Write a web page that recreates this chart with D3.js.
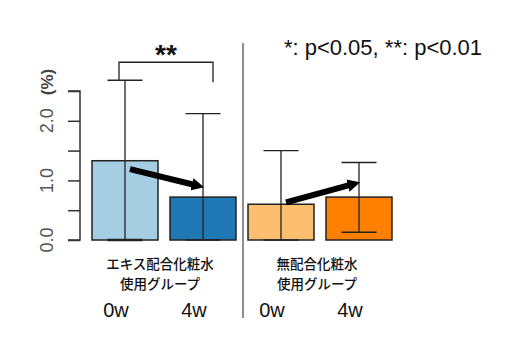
<!DOCTYPE html>
<html>
<head>
<meta charset="utf-8">
<script src="https://cdn.jsdelivr.net/npm/d3@7"></script>
<style>
  body { margin: 0; background: #fff; }
</style>
</head>
<body>
<script>
// values
const categories = ["エキス0w", "エキス4w", "無配合0w", "無配合4w"];
const means = [1.33, 0.72, 0.60, 0.72];
const upper = [2.68, 2.12, 1.50, 1.30];
const lower = [0.00, 0.00, 0.00, 0.13];
const barColors = ["#a6cee3", "#1f78b4", "#fdbf6f", "#ff7f00"];
const weekLabels = ["0w", "4w", "0w", "4w"];
const groupLabels = [["エキス配合化粧水", "使用グループ"], ["無配合化粧水", "使用グループ"]];
const yTicks = [0, 0.5, 1, 1.5, 2, 2.5];
const yLabels = ["0.0", "1.0", "2.0"];

const width = 509, height = 348;

const svg = d3.select("body")
  .append("svg")
  .attr("width", width)
  .attr("height", height);

const x = d3.scaleBand()
  .domain(categories)
  .range([86, 398])
  .paddingInner(0.154)
  .paddingOuter(0.077);

const y = d3.scaleLinear()
  .domain([0, 2.5])
  .range([240, 91]);

// y axis
const yAxis = d3.axisLeft(y)
  .tickValues(yTicks)
  .tickSize(12)
  .tickFormat("");
const ga = svg.append("g")
  .attr("transform", "translate(80,0)")
  .call(yAxis);
ga.select(".domain").attr("stroke", "#333").attr("stroke-width", 1.5)
  .attr("d", "M-12," + y(2.5) + "H0V" + y(0) + "H-12");
ga.selectAll(".tick line").attr("stroke", "#333").attr("stroke-width", 1.5);

svg.selectAll(".ylab")
  .data(yLabels)
  .enter()
  .append("text")
  .attr("transform", function(d) { return "translate(53," + y(+d) + ") rotate(-90)"; })
  .attr("text-anchor", "middle")
  .attr("font-family", "Liberation Sans, Arial, sans-serif")
  .attr("font-size", 18)
  .attr("fill", "#555")
  .text(function(d) { return d; });

svg.append("text")
  .attr("transform", "translate(53,82) rotate(-90)")
  .attr("text-anchor", "middle")
  .attr("font-family", "Liberation Sans, Arial, sans-serif")
  .attr("font-size", 17)
  .attr("font-weight", "bold")
  .attr("fill", "#444")
  .text("(%)");

// bars
svg.selectAll(".bar")
  .data(categories)
  .enter()
  .append("rect")
  .attr("x", function(d) { return x(d); })
  .attr("y", function(d, i) { return y(means[i]); })
  .attr("width", x.bandwidth())
  .attr("height", function(d, i) { return y(0) - y(means[i]); })
  .attr("fill", function(d, i) { return barColors[i]; })
  .attr("stroke", "#222")
  .attr("stroke-width", 1.5);

// error bars
const capW = 35;
const err = svg.selectAll(".err")
  .data(categories)
  .enter()
  .append("g")
  .attr("stroke", "#222")
  .attr("stroke-width", 1.3);
err.append("line")
  .attr("x1", function(d) { return x(d) + x.bandwidth() / 2; })
  .attr("x2", function(d) { return x(d) + x.bandwidth() / 2; })
  .attr("y1", function(d, i) { return y(upper[i]); })
  .attr("y2", function(d, i) { return y(lower[i]); });
err.append("line")
  .attr("x1", function(d) { return x(d) + x.bandwidth() / 2 - capW / 2; })
  .attr("x2", function(d) { return x(d) + x.bandwidth() / 2 + capW / 2; })
  .attr("y1", function(d, i) { return y(upper[i]); })
  .attr("y2", function(d, i) { return y(upper[i]); });
err.append("line")
  .attr("x1", function(d) { return x(d) + x.bandwidth() / 2 - capW / 2; })
  .attr("x2", function(d) { return x(d) + x.bandwidth() / 2 + capW / 2; })
  .attr("y1", function(d, i) { return y(lower[i]); })
  .attr("y2", function(d, i) { return y(lower[i]); })
  .attr("stroke-width", function(d, i) { return i === 0 ? 2.5 : 1.3; });

// significance bracket
const bx1 = x(categories[0]) + x.bandwidth() / 2 - 6;
const bx2 = x(categories[1]) + x.bandwidth() / 2 + 10;
const by = y(upper[0]) - 18;
svg.append("path")
  .attr("d", "M" + bx1 + "," + y(upper[0]) + "V" + by + "H" + bx2 + "V" + (y(upper[0]) + 2))
  .attr("fill", "none")
  .attr("stroke", "#222")
  .attr("stroke-width", 1.3);
svg.append("text")
  .attr("x", (bx1 + bx2) / 2)
  .attr("y", by + 2)
  .attr("text-anchor", "middle")
  .attr("font-family", "Liberation Sans, Arial, sans-serif")
  .attr("font-size", 28)
  .attr("font-weight", "bold")
  .attr("fill", "#111")
  .text("**");

// trend arrows
svg.append("defs").append("marker")
  .attr("id", "ah")
  .attr("viewBox", "0 0 10 10")
  .attr("refX", 5).attr("refY", 5)
  .attr("markerWidth", 2.1).attr("markerHeight", 2.1)
  .attr("orient", "auto")
  .append("path")
  .attr("d", "M0,0L10,5L0,10z")
  .attr("fill", "#000");

const arrows = [[0, 1, 0.24, 0.14], [2, 3, 0.07, 0.17]];
arrows.forEach(function(a) {
  const xa = x(categories[a[0]]) + x.bandwidth() / 2 + 5;
  const xb = x(categories[a[1]]) + x.bandwidth() / 2 - 5;
  svg.append("line")
    .attr("x1", xa)
    .attr("y1", y(means[a[0]] - a[2] + 0.1))
    .attr("x2", xb)
    .attr("y2", y(means[a[1]] + a[3] + 0.05))
    .attr("stroke", "#000")
    .attr("stroke-width", 6)
    .attr("marker-end", "url(#ah)");
});

// divider
svg.append("line")
  .attr("x1", 243).attr("x2", 243)
  .attr("y1", 43).attr("y2", 318)
  .attr("stroke", "#444")
  .attr("stroke-width", 1.2);

// legend text
svg.append("text")
  .attr("x", 383)
  .attr("y", 55)
  .attr("text-anchor", "middle")
  .attr("font-family", "Liberation Sans, Arial, sans-serif")
  .attr("font-size", 22)
  .attr("fill", "#111")
  .text("*: p<0.05, **: p<0.01");

// group labels
const groupCenters = [160, 317];
groupLabels.forEach(function(g, gi) {
  g.forEach(function(s, li) {
    svg.append("text")
      .attr("x", groupCenters[gi])
      .attr("y", 269 + li * 20)
      .attr("text-anchor", "middle")
      .attr("font-family", "Noto Sans CJK JP, sans-serif")
      .attr("font-size", 13.5)
      .attr("font-weight", 500)
      .attr("fill", "#111")
      .text(s);
  });
});

// week labels
svg.selectAll(".wk")
  .data(categories)
  .enter()
  .append("text")
  .attr("x", function(d, i) { return x(d) + x.bandwidth() / 2 - 9; })
  .attr("y", 317)
  .attr("text-anchor", "middle")
  .attr("font-family", "Liberation Sans, Arial, sans-serif")
  .attr("font-size", 20)
  .attr("fill", "#111")
  .text(function(d, i) { return weekLabels[i]; });
</script>
</body>
</html>
